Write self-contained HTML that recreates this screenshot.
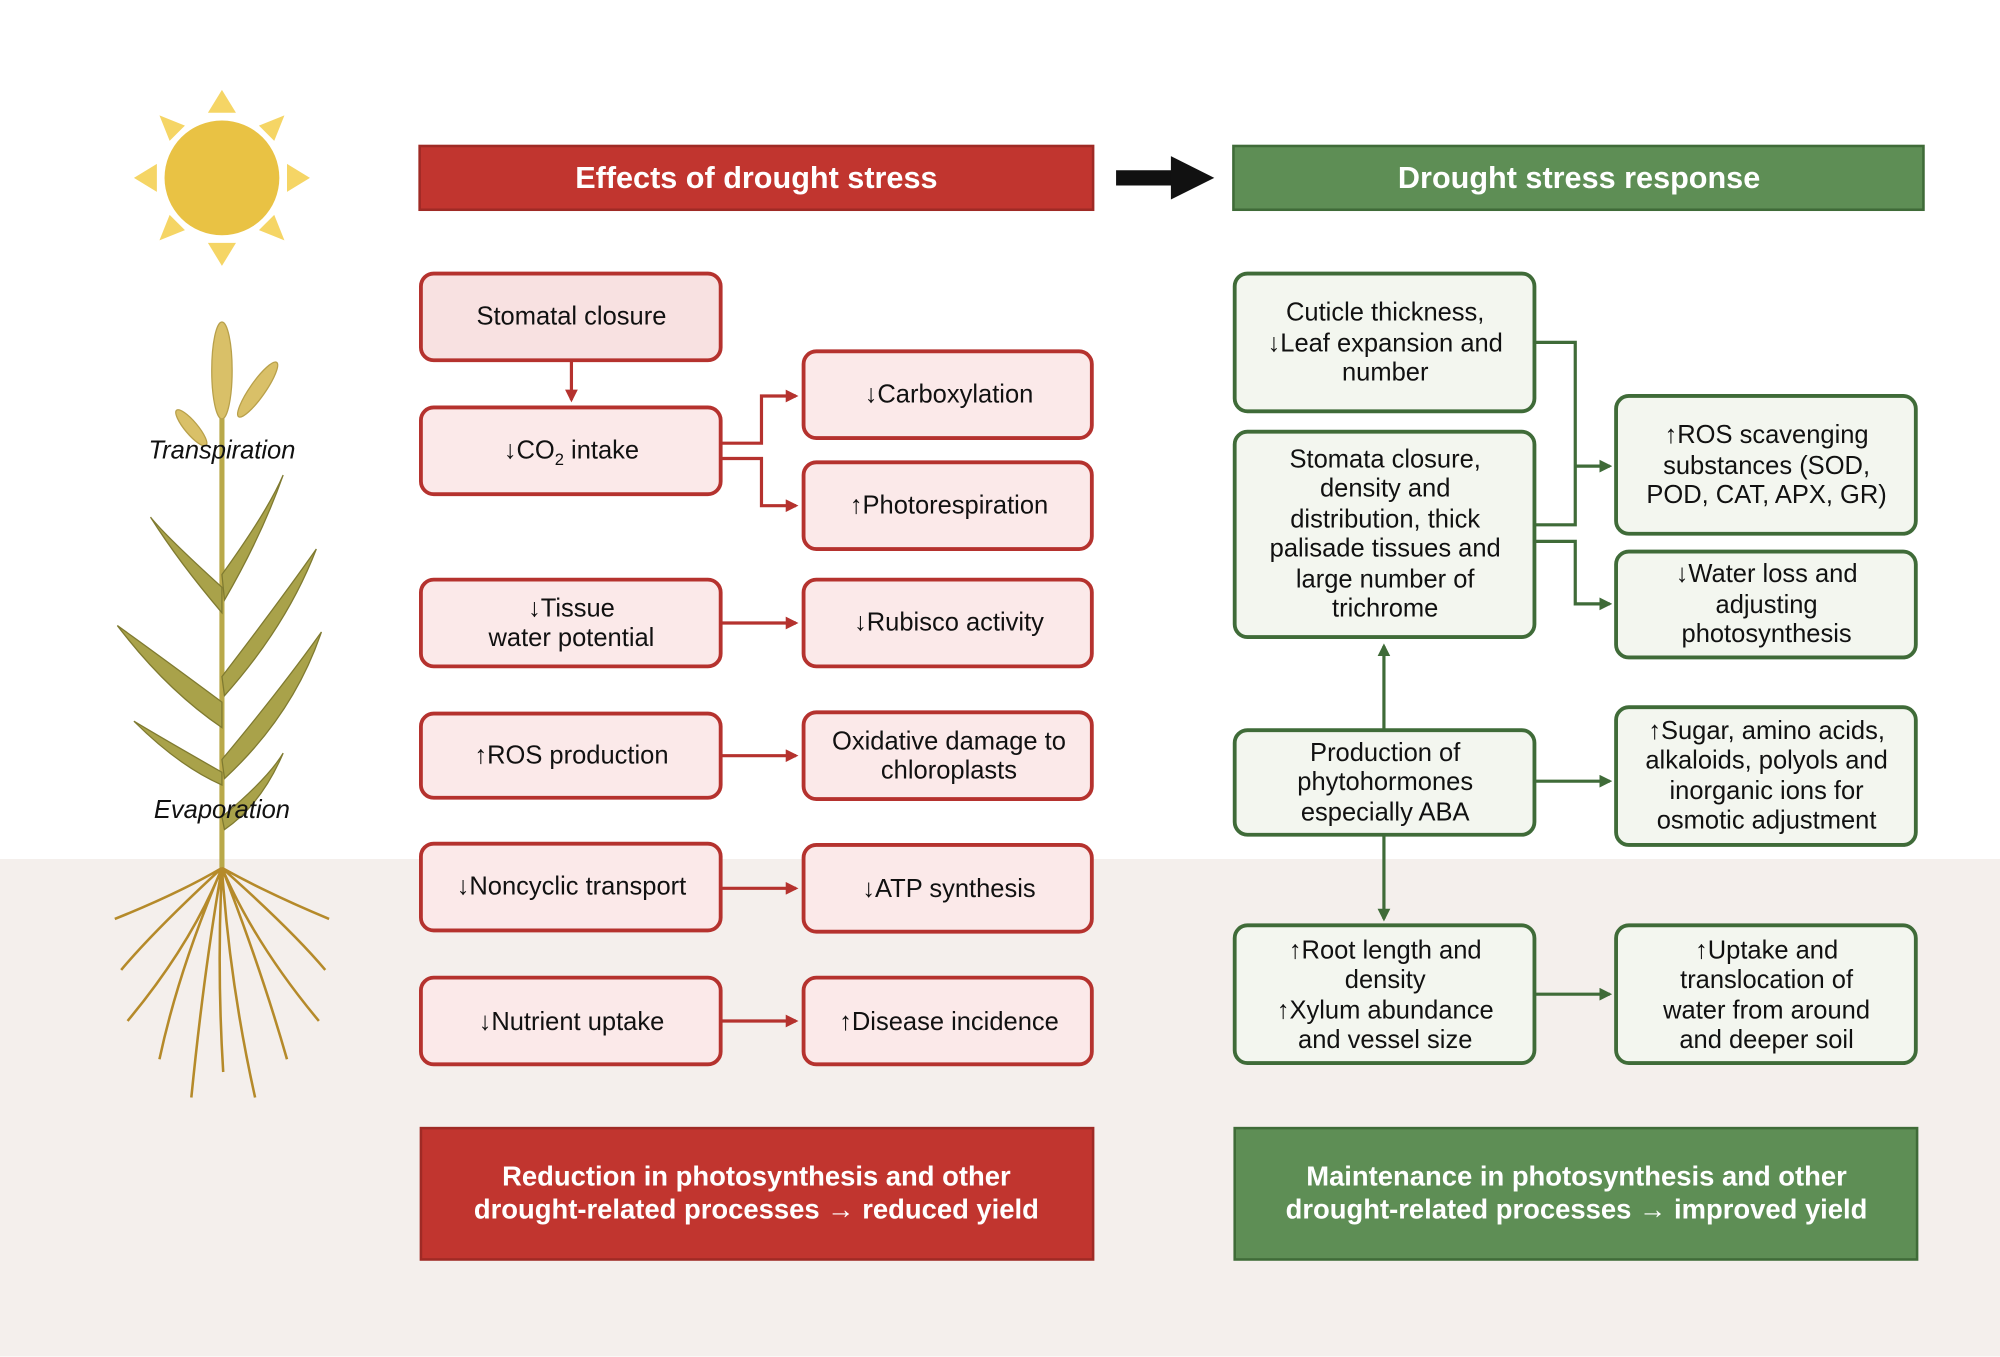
<!DOCTYPE html>
<html><head><meta charset="utf-8"><style>
html,body{margin:0;padding:0;background:#fff}
svg{display:block}
text{font-family:"Liberation Sans",sans-serif}
.t{font-size:20px;fill:#111;text-anchor:middle}
.h{font-size:24px;fill:#fff;font-weight:bold;text-anchor:middle}
.b{font-size:21.5px;fill:#fff;font-weight:bold;text-anchor:middle}
.r{fill:#fbe9e9;stroke:#b5322e;stroke-width:3}
.g{fill:#f3f6ef;stroke:#3f6b38;stroke-width:3}
.rl{stroke:#b5322e;stroke-width:2.5;fill:none}
.gl{stroke:#3f6b38;stroke-width:2.5;fill:none}
</style></head><body>
<svg width="2000" height="1357" viewBox="0 0 1568 1063" xmlns="http://www.w3.org/2000/svg">
<defs>
<marker id="ar" markerWidth="10" markerHeight="10" refX="8" refY="5" orient="auto" markerUnits="userSpaceOnUse"><path d="M0,0 L10,5 L0,10 z" fill="#b5322e"/></marker>
<marker id="ag" markerWidth="10" markerHeight="10" refX="8" refY="5" orient="auto" markerUnits="userSpaceOnUse"><path d="M0,0 L10,5 L0,10 z" fill="#3f6b38"/></marker>
</defs>
<rect x="0" y="673" width="1568" height="390" fill="#f4efec"/>
<!-- sun -->
<g fill="#f5d565">
<polygon points="174,70 163,88 185,88"/><polygon points="174,208 163,190 185,190"/>
<polygon points="105,139 123,128 123,150"/><polygon points="243,139 225,128 225,150"/>
<polygon points="125,90 145,98 133,110"/><polygon points="223,90 203,98 215,110"/>
<polygon points="125,188 145,180 133,168"/><polygon points="223,188 203,180 215,168"/>
</g>
<circle cx="174" cy="139" r="45" fill="#e9c244"/>
<!-- plant -->
<g>
<path d="M174,680 L174,300" stroke="#b9a94a" stroke-width="4" fill="none"/>
<g fill="#a9a24a" stroke="#7f7a30" stroke-width="1">
<path d="M174,460 Q130,420 118,405 Q140,440 174,480z"/>
<path d="M174,450 Q210,400 222,372 Q205,420 176,470z"/>
<path d="M174,550 Q120,510 92,490 Q130,540 174,570z"/>
<path d="M174,530 Q220,470 248,430 Q225,490 176,545z"/>
<path d="M174,605 Q130,580 105,565 Q140,600 174,615z"/>
<path d="M174,595 Q220,540 252,495 Q230,560 176,610z"/>
<path d="M174,640 Q210,610 222,590 Q205,630 176,650z"/>
</g>
<g fill="#d9c068" stroke="#b8a04a">
<ellipse cx="174" cy="290" rx="8" ry="38"/>
<ellipse cx="202" cy="305" rx="6" ry="26" transform="rotate(35 202 305)"/>
<ellipse cx="150" cy="335" rx="5" ry="18" transform="rotate(-40 150 335)"/>
</g>
<g stroke="#b58a2a" stroke-width="2" fill="none">
<path d="M174,680 Q140,700 90,720 M174,680 Q150,740 100,800 M174,680 Q160,760 150,860 M174,680 Q180,770 200,860 M174,680 Q200,740 250,800 M174,680 Q210,700 258,720 M174,680 Q120,730 95,760 M174,680 Q230,730 255,760 M174,680 Q170,760 175,840 M174,680 Q140,760 125,830 M174,680 Q205,760 225,830"/>
</g>
</g>
<text x="174" y="359" style="font-size:20px;font-style:italic;text-anchor:middle;fill:#111">Transpiration</text>
<text x="174" y="641" style="font-size:20px;font-style:italic;text-anchor:middle;fill:#111">Evaporation</text>
<!-- headers -->
<rect x="329" y="114" width="528" height="50" fill="#c1352f" stroke="#9f2a25" stroke-width="2"/>
<text class="h" x="593" y="147">Effects of drought stress</text>
<path d="M875,139 L920,139" stroke="#111" stroke-width="12"/>
<polygon points="918,122 952,139 918,156" fill="#111"/>
<rect x="967" y="114" width="541" height="50" fill="#5e8e55" stroke="#3f6b38" stroke-width="2"/>
<text class="h" x="1238" y="147">Drought stress response</text>
<!-- left boxes -->
<rect class="r" x="330" y="214" width="235" height="68" rx="10" style="fill:#f8e1e1"/><text class="t" x="448" y="254">Stomatal closure</text>
<rect class="r" x="330" y="319" width="235" height="68" rx="10"/><text class="t" x="448" y="359">↓CO<tspan font-size="13" dy="5">2</tspan><tspan dy="-5"> intake</tspan></text>
<rect class="r" x="330" y="454" width="235" height="68" rx="10"/><text class="t" x="448" y="483">↓Tissue</text><text class="t" x="448" y="506">water potential</text>
<rect class="r" x="330" y="559" width="235" height="66" rx="10"/><text class="t" x="448" y="598">↑ROS production</text>
<rect class="r" x="330" y="661" width="235" height="68" rx="10"/><text class="t" x="448" y="701">↓Noncyclic transport</text>
<rect class="r" x="330" y="766" width="235" height="68" rx="10"/><text class="t" x="448" y="807">↓Nutrient uptake</text>
<rect class="r" x="630" y="275" width="226" height="68" rx="10"/><text class="t" x="744" y="315">↓Carboxylation</text>
<rect class="r" x="630" y="362" width="226" height="68" rx="10"/><text class="t" x="744" y="402">↑Photorespiration</text>
<rect class="r" x="630" y="454" width="226" height="68" rx="10"/><text class="t" x="744" y="494">↓Rubisco activity</text>
<rect class="r" x="630" y="558" width="226" height="68" rx="10"/><text class="t" x="744" y="587">Oxidative damage to</text><text class="t" x="744" y="610">chloroplasts</text>
<rect class="r" x="630" y="662" width="226" height="68" rx="10"/><text class="t" x="744" y="703">↓ATP synthesis</text>
<rect class="r" x="630" y="766" width="226" height="68" rx="10"/><text class="t" x="744" y="807">↑Disease incidence</text>
<!-- red connectors -->
<path class="rl" d="M448,282 L448,313" marker-end="url(#ar)"/>
<path class="rl" d="M565,347 L597,347 L597,310 L624,310" marker-end="url(#ar)"/>
<path class="rl" d="M565,359 L597,359 L597,396 L624,396" marker-end="url(#ar)"/>
<path class="rl" d="M565,488 L624,488" marker-end="url(#ar)"/>
<path class="rl" d="M565,592 L624,592" marker-end="url(#ar)"/>
<path class="rl" d="M565,696 L624,696" marker-end="url(#ar)"/>
<path class="rl" d="M565,800 L624,800" marker-end="url(#ar)"/>
<rect x="330" y="884" width="527" height="103" fill="#c1352f" stroke="#9f2a25" stroke-width="2"/>
<text class="b" x="593" y="929">Reduction in photosynthesis and other</text>
<text class="b" x="593" y="955">drought-related processes → reduced yield</text>
<!-- green boxes -->
<rect class="g" x="968" y="214" width="235" height="108" rx="10"/>
<text class="t" x="1086" y="251">Cuticle thickness,</text><text class="t" x="1086" y="275">↓Leaf expansion and</text><text class="t" x="1086" y="298">number</text>
<rect class="g" x="968" y="338" width="235" height="161" rx="10"/>
<text class="t" x="1086" y="366">Stomata closure,</text><text class="t" x="1086" y="389">density and</text><text class="t" x="1086" y="413">distribution, thick</text><text class="t" x="1086" y="436">palisade tissues and</text><text class="t" x="1086" y="460">large number of</text><text class="t" x="1086" y="483">trichrome</text>
<rect class="g" x="968" y="572" width="235" height="82" rx="10"/>
<text class="t" x="1086" y="596">Production of</text><text class="t" x="1086" y="619">phytohormones</text><text class="t" x="1086" y="643">especially ABA</text>
<rect class="g" x="968" y="725" width="235" height="108" rx="10"/>
<text class="t" x="1086" y="751">↑Root length and</text><text class="t" x="1086" y="774">density</text><text class="t" x="1086" y="798">↑Xylum abundance</text><text class="t" x="1086" y="821">and vessel size</text>
<rect class="g" x="1267" y="310" width="235" height="108" rx="10"/>
<text class="t" x="1385" y="347">↑ROS scavenging</text><text class="t" x="1385" y="371">substances (SOD,</text><text class="t" x="1385" y="394">POD, CAT, APX, GR)</text>
<rect class="g" x="1267" y="432" width="235" height="83" rx="10"/>
<text class="t" x="1385" y="456">↓Water loss and</text><text class="t" x="1385" y="480">adjusting</text><text class="t" x="1385" y="503">photosynthesis</text>
<rect class="g" x="1267" y="554" width="235" height="108" rx="10"/>
<text class="t" x="1385" y="579">↑Sugar, amino acids,</text><text class="t" x="1385" y="602">alkaloids, polyols and</text><text class="t" x="1385" y="626">inorganic ions for</text><text class="t" x="1385" y="649">osmotic adjustment</text>
<rect class="g" x="1267" y="725" width="235" height="108" rx="10"/>
<text class="t" x="1385" y="751">↑Uptake and</text><text class="t" x="1385" y="774">translocation of</text><text class="t" x="1385" y="798">water from around</text><text class="t" x="1385" y="821">and deeper soil</text>
<!-- green connectors -->
<path class="gl" d="M1203,268 L1235,268 L1235,411 L1203,411"/>
<path class="gl" d="M1235,365 L1262,365" marker-end="url(#ag)"/>
<path class="gl" d="M1203,424 L1235,424 L1235,473 L1262,473" marker-end="url(#ag)"/>
<path class="gl" d="M1085,572 L1085,506" marker-end="url(#ag)"/>
<path class="gl" d="M1085,654 L1085,720" marker-end="url(#ag)"/>
<path class="gl" d="M1203,612 L1262,612" marker-end="url(#ag)"/>
<path class="gl" d="M1203,779 L1262,779" marker-end="url(#ag)"/>
<rect x="968" y="884" width="535" height="103" fill="#5e8e55" stroke="#3f6b38" stroke-width="2"/>
<text class="b" x="1236" y="929">Maintenance in photosynthesis and other</text>
<text class="b" x="1236" y="955">drought-related processes →  improved yield</text>
</svg>
</body></html>
